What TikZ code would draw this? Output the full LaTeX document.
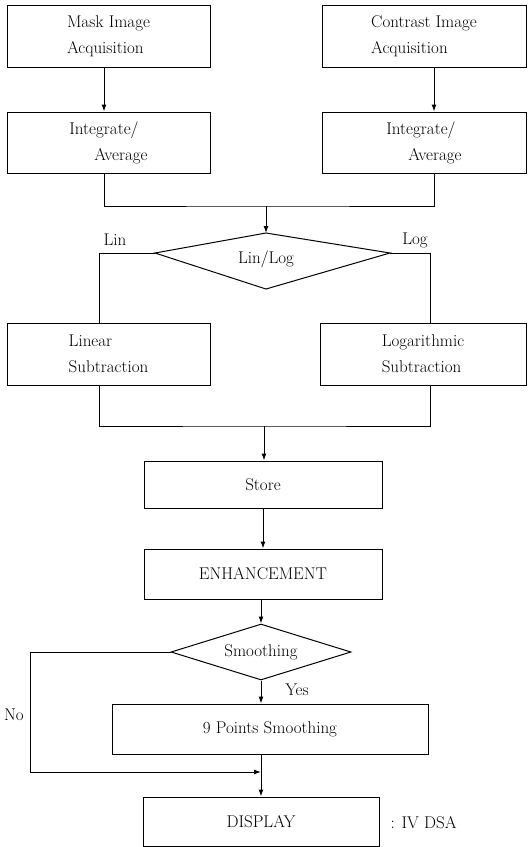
\documentclass[tikz,border=0pt]{standalone}
\usepackage{fontspec}
\usetikzlibrary{arrows.meta,shapes.geometric}

\newcommand\chartfont{\fontsize{17}{26}\selectfont\addfontfeatures{LetterSpace=6}}
\tikzset{
  box/.style={draw,line width=1pt,inner sep=0pt,align=left,font=\chartfont},
  txt/.style={inner sep=0pt,font=\chartfont},
  decide/.style={draw,diamond,aspect=3.2,line width=1pt,inner sep=0pt,font=\chartfont},
}

\begin{document}
\begin{tikzpicture}[x=1pt,y=-1pt,line width=1pt,>={Latex[length=7pt,width=5pt]}]
  \useasboundingbox (0,0) rectangle (530,847);

  \node[box,minimum width=203,minimum height=62] (mask) at (108.5,36) {Mask Image\\Acquisition};
  \node[box,minimum width=204,minimum height=62] (contrast) at (424,36) {Contrast Image\\Acquisition};
  \node[box,minimum width=203,minimum height=61] (integ1) at (108.5,142.5) {Integrate/\\\hspace*{25pt}Average};
  \node[box,minimum width=204,minimum height=61] (integ2) at (424,142.5) {Integrate/\\\hspace*{22pt}Average};
  \draw[->] ([xshift=-4.5]mask.south) -- ([xshift=-4.5]integ1.north);
  \draw[->] ([xshift=10]contrast.south) -- ([xshift=10]integ2.north);

  \coordinate (join1) at (266,206);
  \draw ([xshift=-4.5]integ1.south) |- (join1) -| ([xshift=10]integ2.south);

  \coordinate (sel-t) at (266,233);
  \coordinate (sel-l) at (155,253);
  \coordinate (sel-b) at (266,289);
  \coordinate (sel-r) at (390,253);
  \draw (sel-t) -- (sel-l) -- (sel-b) -- (sel-r) -- cycle;
  \node[txt] (sel) at (266,259) {Lin/Log};
  \draw[->] (join1) -- (sel-t);

  \node[box,minimum width=203,minimum height=62] (linear) at (108.5,354) {Linear\\Subtraction};
  \node[box,minimum width=206,minimum height=62] (logar) at (423,354) {Logarithmic\\Subtraction};
  \draw (sel-l) -| ([xshift=-9.5]linear.north);
  \draw (sel-r) -| ([xshift=7]logar.north);
  \node[txt] (lin) at (115,240) {Lin};
  \node[txt] (log) at (415,240) {Log};

  \coordinate (join2) at (264,426);
  \draw ([xshift=-9.5]linear.south) |- (join2) -| ([xshift=7]logar.south);

  \node[box,minimum width=238,minimum height=47] (store) at (263,484.5) {Store};
  \node[box,minimum width=238,minimum height=50] (enhance) at (263,574) {ENHANCEMENT};
  \draw[->] (join2) -- (join2 |- store.north);
  \draw[->] (store.south) -- (enhance.north);

  \node[decide,minimum width=180,minimum height=56] (smooth) at (261,652) {Smoothing};
  \draw[->] (enhance.south -| smooth.north) -- (smooth.north);

  \node[box,minimum width=316,minimum height=50] (points) at (270,729) {9 Points Smoothing};
  \draw[->] (smooth.south) -- (smooth.south |- points.north);
  \node[txt] (yes) at (297,690) {Yes};

  \node[box,minimum width=236,minimum height=49] (display) at (261,821.5) {DISPLAY};
  \coordinate (merge) at (261,772);
  \draw[->] (smooth.south |- points.south) -- (display.north);
  \draw[->] (smooth.west) -- ++(-140,0) |- (merge);
  \node[txt] (no) at (14,715) {No};
  \node[txt,anchor=west] (dsa) at (390,823) {: IV DSA};
\end{tikzpicture}
\end{document}
